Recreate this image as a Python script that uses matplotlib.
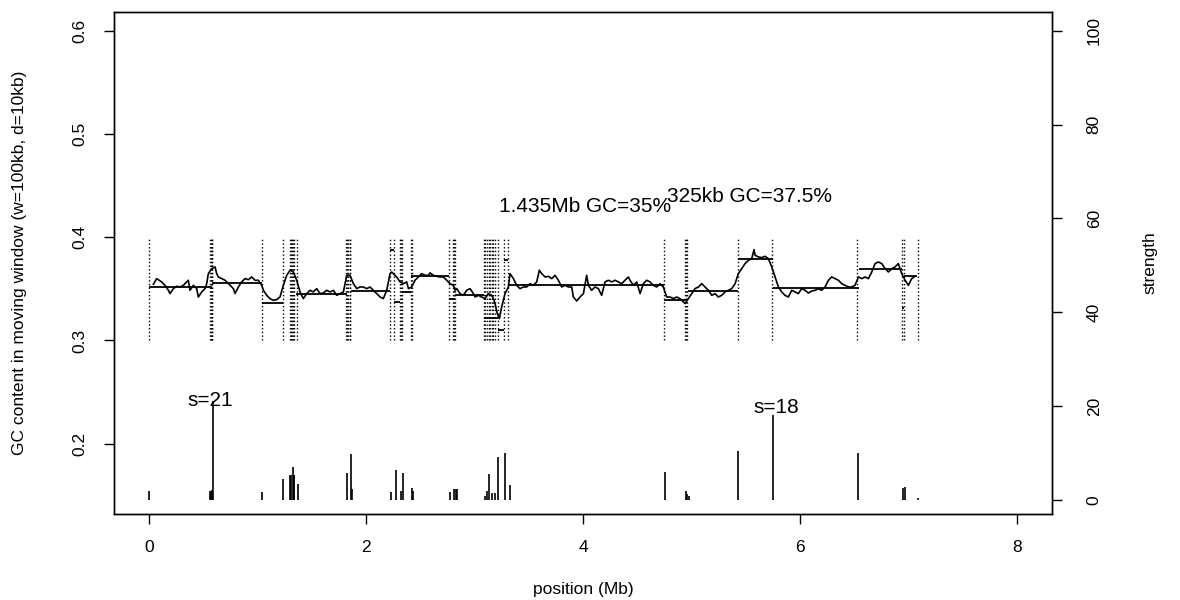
import matplotlib
matplotlib.use("Agg")
import matplotlib.pyplot as plt

plt.rcParams['font.family'] = ['Liberation Sans', 'DejaVu Sans']
plt.rcParams['font.size'] = 12.5

# GC content in moving window (position in Mb, GC fraction)
pos = [0.043, 0.073, 0.119, 0.150, 0.181, 0.196, 0.227, 0.258, 0.288, 0.319,
       0.365, 0.380, 0.411, 0.442, 0.457, 0.488, 0.519, 0.534, 0.549, 0.580,
       0.611, 0.626, 0.641, 0.672, 0.703, 0.718, 0.749, 0.780, 0.795, 0.826,
       0.856, 0.887, 0.918, 0.949, 0.979, 1.010, 1.041, 1.056, 1.087, 1.117,
       1.148, 1.179, 1.209, 1.240, 1.271, 1.302, 1.332, 1.363, 1.394, 1.424,
       1.455, 1.486, 1.516, 1.547, 1.578, 1.609, 1.639, 1.670, 1.701, 1.731,
       1.762, 1.793, 1.824, 1.854, 1.885, 1.916, 1.946, 1.977, 2.008, 2.038,
       2.069, 2.100, 2.131, 2.161, 2.192, 2.223, 2.238, 2.284, 2.315, 2.346,
       2.376, 2.392, 2.422, 2.453, 2.484, 2.514, 2.545, 2.576,
       2.591, 2.622, 2.653, 2.683, 2.714, 2.745, 2.775, 2.806, 2.821, 2.837,
       2.867, 2.898, 2.929, 2.960, 2.990, 3.006, 3.036, 3.067, 3.098, 3.128,
       3.159, 3.175, 3.190, 3.211, 3.230, 3.251, 3.282, 3.313, 3.328, 3.359,
       3.389, 3.420, 3.451, 3.482, 3.512, 3.543, 3.574, 3.598, 3.620, 3.650,
       3.681, 3.712, 3.743, 3.773, 3.804, 3.835, 3.865, 3.896, 3.911, 3.942,
       3.973, 4.004, 4.034, 4.050, 4.080, 4.111, 4.142, 4.172, 4.203, 4.234,
       4.265, 4.295, 4.326, 4.357, 4.387, 4.418, 4.433, 4.464, 4.495, 4.526,
       4.556, 4.587, 4.618, 4.648, 4.679, 4.710, 4.740, 4.771, 4.802, 4.833,
       4.863, 4.894, 4.925, 4.940, 4.971, 5.002, 5.032, 5.063, 5.094, 5.124,
       5.155, 5.186, 5.216, 5.247, 5.278, 5.309, 5.339, 5.370, 5.401, 5.431,
       5.462, 5.493, 5.524, 5.554, 5.576, 5.585, 5.616, 5.646, 5.677, 5.708,
       5.739, 5.769, 5.800, 5.831, 5.861, 5.892, 5.923, 5.953, 5.984, 6.015,
       6.046, 6.076, 6.107, 6.138, 6.168, 6.199, 6.230, 6.261, 6.291, 6.322,
       6.353, 6.383, 6.414, 6.445, 6.475, 6.506, 6.537, 6.568, 6.598, 6.629,
       6.660, 6.690, 6.721, 6.752, 6.783, 6.813, 6.844, 6.875, 6.905, 6.936,
       6.967, 6.997, 7.028, 7.059]
gc = [0.3544, 0.3599, 0.3567, 0.3534, 0.3486, 0.3454, 0.3502, 0.3525, 0.3518, 0.3534,
      0.3583, 0.3486, 0.3534, 0.3502, 0.3421, 0.3470, 0.3502, 0.3550, 0.3647, 0.3696,
      0.3712, 0.3647, 0.3615, 0.3599, 0.3583, 0.3567, 0.3534, 0.3502, 0.3454, 0.3518,
      0.3567, 0.3599, 0.3589, 0.3615, 0.3583, 0.3583, 0.3534, 0.3486, 0.3437, 0.3405,
      0.3389, 0.3396, 0.3421, 0.3534, 0.3631, 0.3680, 0.3663, 0.3583, 0.3470, 0.3405,
      0.3454, 0.3486, 0.3470, 0.3502, 0.3454, 0.3460, 0.3486, 0.3470, 0.3486, 0.3437,
      0.3454, 0.3470, 0.3631, 0.3631, 0.3550, 0.3502, 0.3518, 0.3518, 0.3502, 0.3518,
      0.3486, 0.3454, 0.3421, 0.3405, 0.3486, 0.3647, 0.3663, 0.3615, 0.3567, 0.3550,
      0.3567, 0.3502, 0.3518, 0.3583, 0.3615, 0.3647, 0.3631, 0.3631,
      0.3654, 0.3631, 0.3621, 0.3615, 0.3615, 0.3583, 0.3550, 0.3534, 0.3486, 0.3502,
      0.3454, 0.3437, 0.3486, 0.3502, 0.3454, 0.3421, 0.3437, 0.3421, 0.3405, 0.3454,
      0.3437, 0.3405, 0.3357, 0.3260, 0.3212, 0.3324, 0.3454, 0.3518, 0.3647, 0.3599,
      0.3534, 0.3502, 0.3518, 0.3518, 0.3550, 0.3534, 0.3567, 0.3680, 0.3647, 0.3615,
      0.3621, 0.3599, 0.3631, 0.3583, 0.3518, 0.3534, 0.3518, 0.3518, 0.3421, 0.3383,
      0.3421, 0.3454, 0.3631, 0.3534, 0.3486, 0.3518, 0.3502, 0.3437, 0.3567, 0.3583,
      0.3567, 0.3583, 0.3567, 0.3550, 0.3583, 0.3615, 0.3583, 0.3534, 0.3567, 0.3454,
      0.3550, 0.3583, 0.3567, 0.3534, 0.3518, 0.3550, 0.3518, 0.3421, 0.3421, 0.3405,
      0.3421, 0.3405, 0.3373, 0.3357, 0.3405, 0.3454, 0.3502, 0.3518, 0.3550, 0.3518,
      0.3486, 0.3437, 0.3454, 0.3421, 0.3437, 0.3470, 0.3486, 0.3502, 0.3550, 0.3647,
      0.3696, 0.3744, 0.3776, 0.3792, 0.3880, 0.3825, 0.3809, 0.3802, 0.3815, 0.3792,
      0.3712, 0.3615, 0.3518, 0.3470, 0.3437, 0.3421, 0.3486, 0.3470, 0.3454, 0.3502,
      0.3486, 0.3460, 0.3479, 0.3486, 0.3502, 0.3486, 0.3518, 0.3583, 0.3615, 0.3599,
      0.3583, 0.3550, 0.3534, 0.3518, 0.3518, 0.3534, 0.3615, 0.3599, 0.3615, 0.3599,
      0.3663, 0.3744, 0.3760, 0.3744, 0.3696, 0.3663, 0.3696, 0.3712, 0.3744, 0.3647,
      0.3583, 0.3534, 0.3599, 0.3621]

# segment means
seg_start = [0.0, 0.58, 1.04, 1.36, 1.86, 2.22, 2.26, 2.33, 2.42, 2.77, 2.82, 3.09,
             3.22, 3.27, 3.31, 4.75, 4.97, 5.43, 5.75, 6.54, 6.94, 6.96]
seg_end = [0.58, 1.04, 1.24, 1.83, 2.22, 2.26, 2.31, 2.42, 2.77, 2.82, 3.09, 3.22,
           3.27, 3.31, 4.75, 4.95, 5.43, 5.75, 6.54, 6.94, 6.96, 7.08]
seg_gc = [0.352, 0.356, 0.336, 0.345, 0.348, 0.388, 0.337, 0.347, 0.362, 0.3405, 0.344,
          0.322, 0.3105, 0.378, 0.3535, 0.3395, 0.348, 0.379, 0.351, 0.369, 0.3315, 0.3625]

# breakpoints
breaks = [0.0, 0.566, 0.573, 0.580, 0.586, 1.041, 1.237, 1.300, 1.310, 1.320, 1.330,
          1.338, 1.363, 1.815, 1.825, 1.840, 1.850, 1.858, 2.223, 2.259, 2.310, 2.320,
          2.335, 2.418, 2.428, 2.769, 2.800, 2.810, 2.820, 3.090, 3.100, 3.115, 3.130,
          3.145, 3.160, 3.175, 3.190, 3.214, 3.273, 3.313, 4.750, 4.940, 4.950, 4.960,
          5.425, 5.745, 6.528, 6.939, 6.960, 7.083]

# breakpoint strength
bar_pos = [0.0, 0.566, 0.573, 0.580, 0.589, 1.047, 1.240, 1.305, 1.315, 1.326, 1.335,
           1.341, 1.378, 1.830, 1.864, 1.876, 2.232, 2.275, 2.324, 2.340, 2.423, 2.435,
           2.775, 2.815, 2.826, 2.837, 3.098, 3.113, 3.135, 3.160, 3.190, 3.220, 3.282,
           3.328, 4.759, 4.949, 4.961, 4.975, 5.428, 5.754, 6.534, 6.945, 6.967, 7.090]
bar_s = [1.8, 2.0, 2.0, 2.2, 21, 1.6, 4.4, 5.3, 5.3, 7.1, 5.3, 5.3, 3.4, 5.7, 9.7, 2.3,
         1.6, 6.4, 1.9, 5.7, 2.5, 2.0, 1.6, 2.3, 2.3, 2.3, 0.9, 1.8, 5.5, 1.4, 1.4, 9.1,
         9.9, 3.2, 5.9, 1.9, 1.3, 0.9, 10.4, 18, 9.9, 2.5, 2.7, 0.5]

fig = plt.figure(figsize=(11.8, 6), dpi=100)
ax = fig.add_axes([0.0966, 0.1433, 0.7949, 0.8367])
ax.set_xlim(-0.32, 8.32)
ax.set_ylim(0.132, 0.618)

ax.vlines(breaks, 0.3, 0.4, colors='k', linestyles=':', linewidth=1.0)
ax.hlines(seg_gc, seg_start, seg_end, colors='k', linewidth=1.3)
ax.plot(pos, gc, color='k', linewidth=1.2)

ax.text(4.02, 0.430, '1.435Mb GC=35%', ha='center', va='center', fontsize=15)
ax.text(5.53, 0.4395, '325kb GC=37.5%', ha='center', va='center', fontsize=15)

ax.set_xticks([0, 2, 4, 6, 8])
ax.set_yticks([0.2, 0.3, 0.4, 0.5, 0.6])
ax.tick_params(axis='both', direction='out', length=7, width=1, pad=12)
for lab in ax.get_yticklabels():
    lab.set_rotation(90)
    lab.set_va('center')
ax.set_xlabel('position (Mb)')
ax.set_ylabel('GC content in moving window (w=100kb, d=10kb)')
ax.xaxis.set_label_coords(0.5, -0.135)
ax.yaxis.set_label_coords(-0.093, 0.5)

ax2 = ax.twinx()
ax2.set_ylim(-3, 104)
ax2.vlines(bar_pos, 0, bar_s, colors='k', linewidth=1.2)
ax2.text(0.57, 21.2, 's=21', ha='center', va='center', fontsize=15)
ax2.text(5.785, 19.7, 's=18', ha='center', va='center', fontsize=15)
ax2.set_yticks([0, 20, 40, 60, 80, 100])
ax2.tick_params(axis='y', direction='out', length=7, width=1, pad=18)
for lab in ax2.get_yticklabels():
    lab.set_rotation(90)
    lab.set_va('center')
ax2.set_ylabel('strength')
ax2.yaxis.set_label_coords(1.097, 0.5)

for a in (ax, ax2):
    for sp in a.spines.values():
        sp.set_linewidth(1.0)

fig.savefig('out.png', dpi=100)
